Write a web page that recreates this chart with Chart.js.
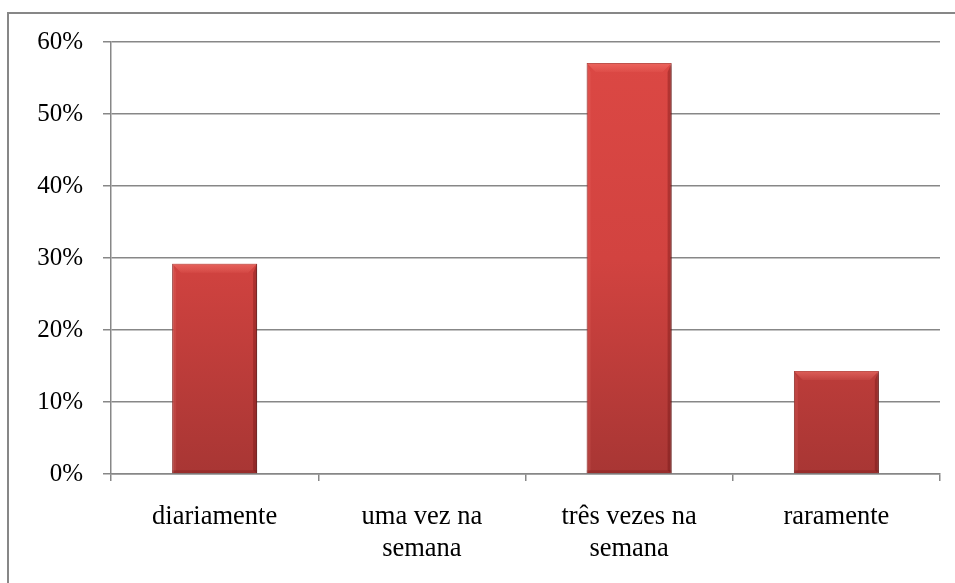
<!DOCTYPE html>
<html>
<head>
<meta charset="utf-8">
<script src="https://cdn.jsdelivr.net/npm/chart.js@4.4.1/dist/chart.umd.min.js"></script>
<style>
  html, body { margin: 0; padding: 0; background: #fff; overflow: hidden; }
  #wrap { position: relative; width: 955px; height: 583px; }
  #frame { position: absolute; left: 7px; top: 12px; width: 1000px; height: 700px; border: 2px solid #878787; }
  #chart { position: absolute; left: 0; top: 0; }
</style>
</head>
<body>
<div id="wrap">
  <div id="frame"></div>
  <canvas id="chart" width="955" height="583"></canvas>
</div>
<script>
// dados do gráfico
const categorias = ['diariamente', ['uma vez na', 'semana'], ['três vezes na', 'semana'], 'raramente'];
const valores = [29.2, 0, 57.1, 14.3];
const yTicks = [0, 10, 20, 30, 40, 50, 60];

document.addEventListener("DOMContentLoaded", function() {
    const ctx = document.getElementById('chart').getContext('2d');

    // gradiente vertical das barras
    function barGradient(context) {
        const area = context.chart.chartArea;
        if (!area) return '#d4423f';
        const g = context.chart.ctx.createLinearGradient(0, area.top, 0, area.bottom);
        g.addColorStop(0, '#dc4844');
        g.addColorStop(0.5, '#d24340');
        g.addColorStop(1, '#a83634');
        return g;
    }

    // sombra + bisel nas barras
    const bevel = {
        id: 'bevel',
        beforeDatasetsDraw(chart) {
            chart.ctx.save();
            chart.ctx.shadowColor = 'rgba(0,0,0,0.3)';
            chart.ctx.shadowBlur = 6;
            chart.ctx.shadowOffsetX = 2;
            chart.ctx.shadowOffsetY = 2;
        },
        afterDatasetsDraw(chart) {
            chart.ctx.restore();
            const c = chart.ctx;
            chart.getDatasetMeta(0).data.forEach(bar => {
                const h = bar.base - bar.y;
                if (h < 2) return;
                const l = bar.x - bar.width / 2, r = bar.x + bar.width / 2, t = bar.y, b = bar.base;
                const d = Math.min(9, h / 2);
                c.save();
                // topo claro
                const tg = c.createLinearGradient(0, t, 0, t + d);
                tg.addColorStop(0, 'rgba(255,130,120,0.5)');
                tg.addColorStop(1, 'rgba(255,130,120,0.1)');
                c.fillStyle = tg;
                c.beginPath();
                c.moveTo(l, t); c.lineTo(r, t); c.lineTo(r - d, t + d); c.lineTo(l + d, t + d);
                c.closePath(); c.fill();
                // lado direito escuro
                c.fillStyle = 'rgba(90,10,10,0.3)';
                c.beginPath();
                c.moveTo(r, t); c.lineTo(r, b); c.lineTo(r - 4, b - 3); c.lineTo(r - 4, t + d);
                c.closePath(); c.fill();
                // lado esquerdo levemente claro
                c.fillStyle = 'rgba(255,150,140,0.12)';
                c.beginPath();
                c.moveTo(l, t); c.lineTo(l + 4, t + d); c.lineTo(l + 4, b - 3); c.lineTo(l, b);
                c.closePath(); c.fill();
                // base escura
                c.fillStyle = 'rgba(90,10,10,0.2)';
                c.fillRect(l, b - 3, r - l, 3);
                c.restore();
            });
        }
    };

    new Chart(ctx, {
        type: 'bar',
        data: {
            labels: categorias,
            datasets: [{
                data: valores,
                backgroundColor: barGradient,
                borderColor: '#8e2a28',
                borderWidth: 1,
                barPercentage: 0.41,
                categoryPercentage: 1
            }]
        },
        options: {
            responsive: false,
            animation: false,
            layout: { padding: { top: 42, right: 15, left: 0, bottom: 0 } },
            plugins: { legend: { display: false }, tooltip: { enabled: false } },
            scales: {
                x: {
                    offset: true,
                    grid: { offset: true, drawOnChartArea: false, color: '#878787', lineWidth: 1.5, tickLength: 7 },
                    border: { color: '#878787', width: 1.5 },
                    ticks: {
                        color: '#000',
                        padding: 20,
                        maxRotation: 0,
                        autoSkip: false,
                        font: { family: '"Liberation Serif", "Times New Roman", serif', size: 26.5, lineHeight: 1.2 }
                    },
                    afterFit: function(scale) { scale.height = 583 - 474; }
                },
                y: {
                    min: 0,
                    max: 60,
                    afterBuildTicks: function(scale) { scale.ticks = yTicks.map(v => ({ value: v })); },
                    grid: { color: '#878787', lineWidth: 1.5, tickLength: 8 },
                    border: { color: '#878787', width: 1.5 },
                    ticks: {
                        color: '#000',
                        padding: 20,
                        font: { family: '"Liberation Serif", "Times New Roman", serif', size: 25 },
                        callback: function(value) { return value + '%'; }
                    },
                    afterFit: function(scale) { scale.width = 111; }
                }
            }
        },
        plugins: [bevel]
    });
});
</script>
</body>
</html>
